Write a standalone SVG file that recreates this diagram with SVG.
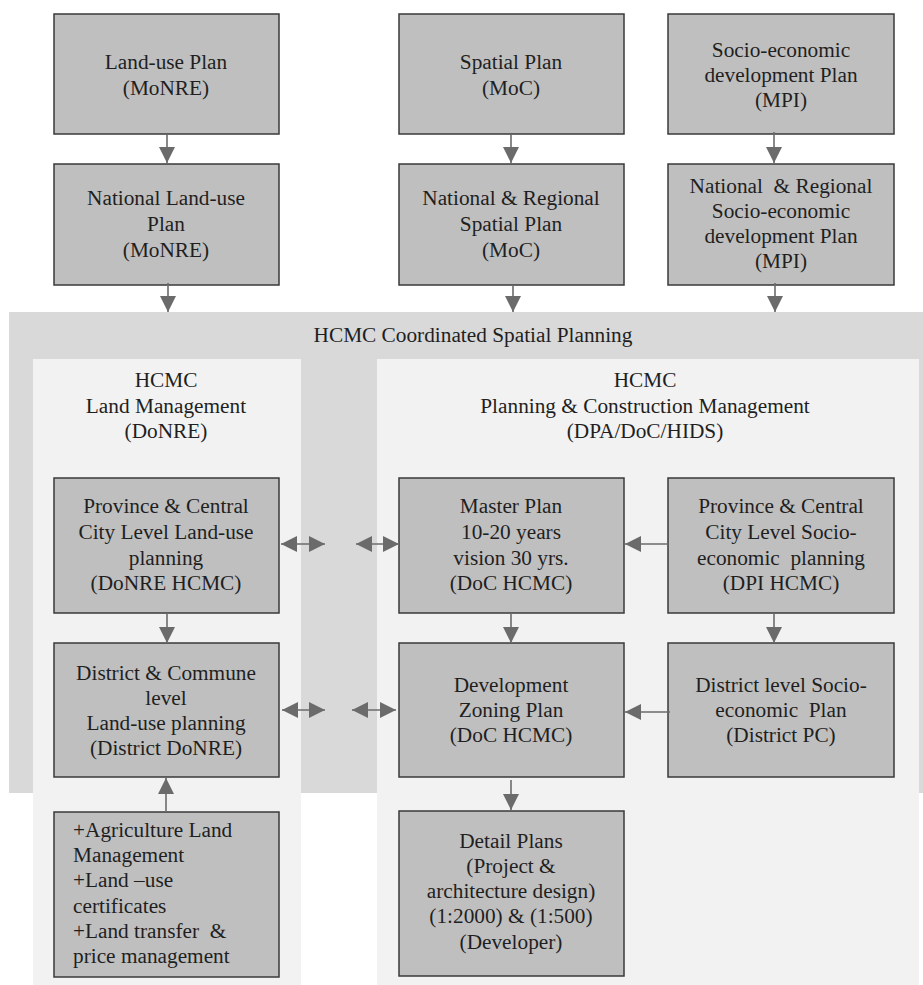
<svg xmlns="http://www.w3.org/2000/svg" width="923" height="985" viewBox="0 0 923 985">
<defs>
<style>
.box{fill:#bfbfbf;stroke:#3a3a3a;stroke-width:1.5}
text{font-family:"Liberation Serif","Times New Roman",serif;font-size:21.3px;fill:#1f1f1f;white-space:pre}
.c{text-anchor:middle}
.con line{stroke:#6b6b6b;stroke-width:1.6}
</style>
<marker id="ah" viewBox="0 0 10 10" refX="10" refY="5" markerWidth="16" markerHeight="16" markerUnits="userSpaceOnUse" orient="auto-start-reverse">
<path d="M0,0 L10,5 L0,10 z" fill="#6b6b6b"/>
</marker>
</defs>
<rect width="923" height="985" fill="#ffffff"/>
<g id="outer">
<rect x="9" y="312" width="914" height="481" fill="#d9d9d9"/>
<text class="c" x="473" y="342">HCMC Coordinated Spatial Planning</text>
</g>
<g id="panel-land">
<rect x="33" y="359" width="268" height="626" fill="#f2f2f2"/>
<text class="c"><tspan x="166" y="387">HCMC</tspan><tspan x="166" y="413">Land Management</tspan><tspan x="166" y="438">(DoNRE)</tspan></text>
</g>
<g id="panel-planning">
<rect x="377" y="359" width="542" height="626" fill="#f2f2f2"/>
<text class="c"><tspan x="645" y="387">HCMC</tspan><tspan x="645" y="413">Planning &amp; Construction Management</tspan><tspan x="645" y="438">(DPA/DoC/HIDS)</tspan></text>
</g>
<g id="n-landuse">
<rect class="box" x="54" y="14" width="225" height="120"/>
<text class="c"><tspan x="166" y="69">Land-use Plan</tspan><tspan x="166" y="95">(MoNRE)</tspan></text>
</g>
<g id="n-spatial">
<rect class="box" x="399" y="14" width="225" height="120"/>
<text class="c"><tspan x="511" y="69">Spatial Plan</tspan><tspan x="511" y="95">(MoC)</tspan></text>
</g>
<g id="n-socio">
<rect class="box" x="668" y="14" width="226" height="120"/>
<text class="c"><tspan x="781" y="57">Socio-economic</tspan><tspan x="781" y="82">development Plan</tspan><tspan x="781" y="107">(MPI)</tspan></text>
</g>
<g id="n-nat-landuse">
<rect class="box" x="54" y="164" width="225" height="121"/>
<text class="c"><tspan x="166" y="205">National Land-use</tspan><tspan x="166" y="231">Plan</tspan><tspan x="166" y="257">(MoNRE)</tspan></text>
</g>
<g id="n-nat-spatial">
<rect class="box" x="399" y="164" width="225" height="121"/>
<text class="c"><tspan x="511" y="205">National &amp; Regional</tspan><tspan x="511" y="231">Spatial Plan</tspan><tspan x="511" y="257">(MoC)</tspan></text>
</g>
<g id="n-nat-socio">
<rect class="box" x="668" y="164" width="226" height="121"/>
<text class="c"><tspan x="781" y="193">National  &amp; Regional</tspan><tspan x="781" y="218">Socio-economic</tspan><tspan x="781" y="243">development Plan</tspan><tspan x="781" y="268">(MPI)</tspan></text>
</g>
<g id="n-prov-landuse">
<rect class="box" x="54" y="478" width="225" height="135"/>
<text class="c"><tspan x="166" y="513">Province &amp; Central</tspan><tspan x="166" y="539">City Level Land-use</tspan><tspan x="166" y="565">planning</tspan><tspan x="166" y="590">(DoNRE HCMC)</tspan></text>
</g>
<g id="n-master">
<rect class="box" x="399" y="478" width="225" height="135"/>
<text class="c"><tspan x="511" y="513">Master Plan</tspan><tspan x="511" y="539">10-20 years</tspan><tspan x="511" y="565">vision 30 yrs.</tspan><tspan x="511" y="590">(DoC HCMC)</tspan></text>
</g>
<g id="n-prov-socio">
<rect class="box" x="668" y="478" width="226" height="135"/>
<text class="c"><tspan x="781" y="513">Province &amp; Central</tspan><tspan x="781" y="539">City Level Socio-</tspan><tspan x="781" y="565">economic  planning</tspan><tspan x="781" y="590">(DPI HCMC)</tspan></text>
</g>
<g id="n-district-landuse">
<rect class="box" x="54" y="643" width="225" height="134"/>
<text class="c"><tspan x="166" y="680">District &amp; Commune</tspan><tspan x="166" y="705">level</tspan><tspan x="166" y="730">Land-use planning</tspan><tspan x="166" y="755">(District DoNRE)</tspan></text>
</g>
<g id="n-zoning">
<rect class="box" x="399" y="643" width="225" height="134"/>
<text class="c"><tspan x="511" y="692">Development</tspan><tspan x="511" y="717">Zoning Plan</tspan><tspan x="511" y="742">(DoC HCMC)</tspan></text>
</g>
<g id="n-district-socio">
<rect class="box" x="668" y="643" width="226" height="134"/>
<text class="c"><tspan x="781" y="692">District level Socio-</tspan><tspan x="781" y="717">economic  Plan</tspan><tspan x="781" y="742">(District PC)</tspan></text>
</g>
<g id="n-agri">
<rect class="box" x="54" y="812" width="225" height="165"/>
<text><tspan x="73" y="837">+Agriculture Land</tspan><tspan x="73" y="862">Management</tspan><tspan x="73" y="887">+Land –use</tspan><tspan x="73" y="913">certificates</tspan><tspan x="73" y="938">+Land transfer  &amp;</tspan><tspan x="73" y="963">price management</tspan></text>
</g>
<g id="n-detail">
<rect class="box" x="399" y="811" width="225" height="165"/>
<text class="c"><tspan x="511" y="848">Detail Plans</tspan><tspan x="511" y="873">(Project &amp;</tspan><tspan x="511" y="898">architecture design)</tspan><tspan x="511" y="923">(1:2000) &amp; (1:500)</tspan><tspan x="511" y="949">(Developer)</tspan></text>
</g>
<g id="connectors" class="con">
<line x1="167" y1="134" x2="167" y2="163" marker-end="url(#ah)"/>
<line x1="511" y1="134" x2="511" y2="163" marker-end="url(#ah)"/>
<line x1="774" y1="132" x2="774" y2="163" marker-end="url(#ah)"/>
<line x1="168" y1="283" x2="168" y2="312" marker-end="url(#ah)"/>
<line x1="513" y1="285" x2="513" y2="312" marker-end="url(#ah)"/>
<line x1="775" y1="283" x2="775" y2="312" marker-end="url(#ah)"/>
<line x1="281" y1="544" x2="325" y2="544" marker-start="url(#ah)" marker-end="url(#ah)"/>
<line x1="356" y1="544" x2="399" y2="544" marker-start="url(#ah)" marker-end="url(#ah)"/>
<line x1="668" y1="544" x2="625" y2="544" marker-end="url(#ah)"/>
<line x1="167" y1="613" x2="167" y2="643" marker-end="url(#ah)"/>
<line x1="511" y1="613" x2="511" y2="643" marker-end="url(#ah)"/>
<line x1="774" y1="613" x2="774" y2="643" marker-end="url(#ah)"/>
<line x1="282" y1="710" x2="325" y2="710" marker-start="url(#ah)" marker-end="url(#ah)"/>
<line x1="352" y1="710" x2="396" y2="710" marker-start="url(#ah)" marker-end="url(#ah)"/>
<line x1="670" y1="712" x2="625" y2="712" marker-end="url(#ah)"/>
<line x1="511" y1="780" x2="511" y2="810" marker-end="url(#ah)"/>
<line x1="166" y1="812" x2="166" y2="778" marker-end="url(#ah)"/>
</g>
</svg>
